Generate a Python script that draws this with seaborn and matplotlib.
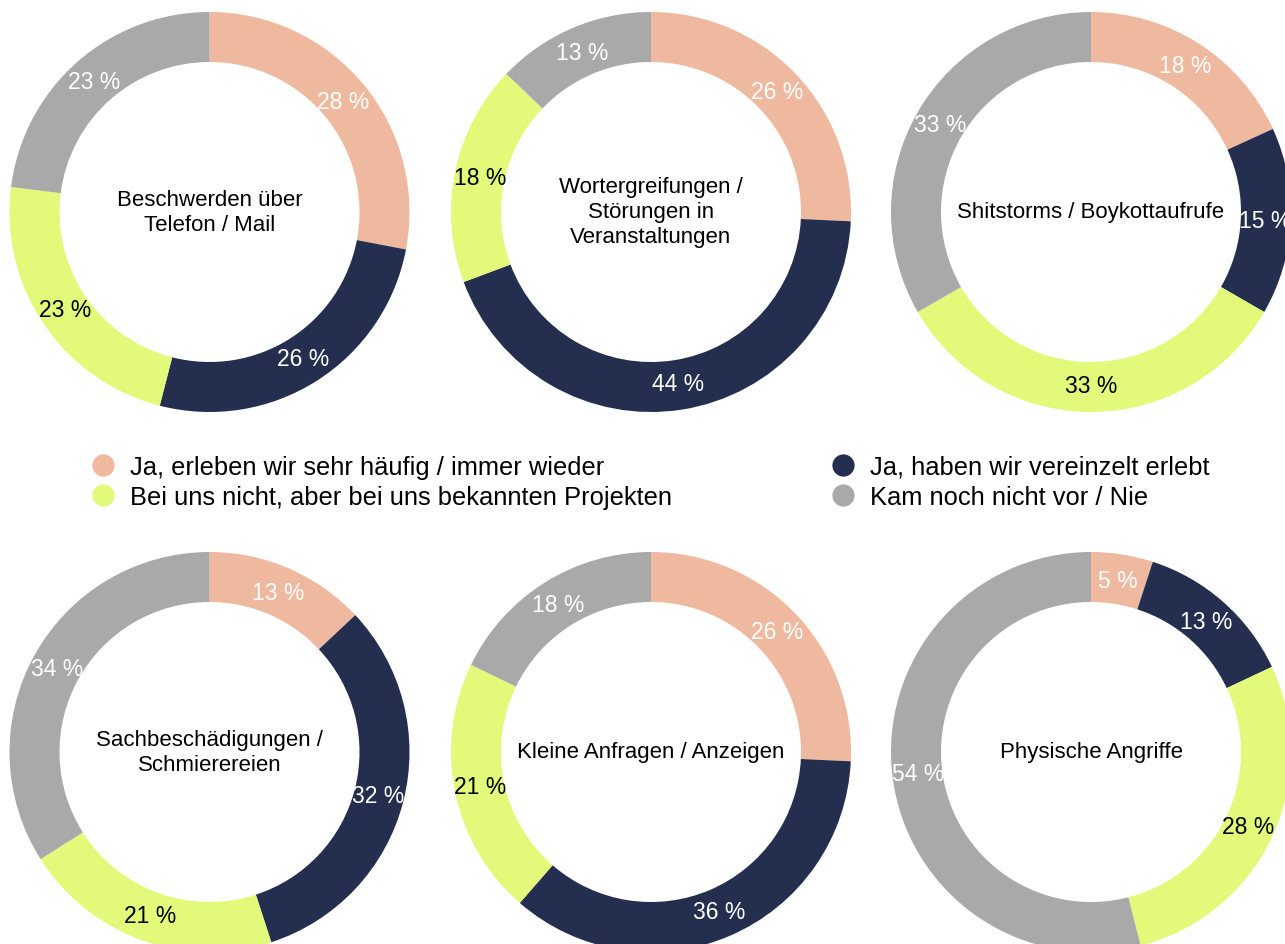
import matplotlib
matplotlib.use("Agg")
import matplotlib.pyplot as plt
from matplotlib.lines import Line2D
import seaborn as sns

# answer categories (legend order follows the ring order)
categories = [
    "Ja, erleben wir sehr häufig / immer wieder",
    "Ja, haben wir vereinzelt erlebt",
    "Bei uns nicht, aber bei uns bekannten Projekten",
    "Kam noch nicht vor / Nie",
]
topics = [
    "Beschwerden über\nTelefon / Mail",
    "Wortergreifungen /\nStörungen in\nVeranstaltungen",
    "Shitstorms / Boykottaufrufe",
    "Sachbeschädigungen /\nSchmierereien",
    "Kleine Anfragen / Anzeigen",
    "Physische Angriffe",
]
sehr_haeufig = [28, 26, 18, 13, 26, 5]
vereinzelt = [26, 44, 15, 32, 36, 13]
bekannte_projekte = [23, 18, 33, 21, 21, 28]
nie = [23, 13, 33, 34, 18, 54]

sns.set_theme(style="white")
plt.rcParams["font.family"] = ["Liberation Sans", "DejaVu Sans"]

palette = sns.color_palette(["#EFB9A0", "#242E4F", "#E3F97A", "#A9A9A9"])
text_colors = ["white", "white", "black", "white"]

W, H = 1285, 945
R = 200
centers = [(209.5, 213), (651, 213), (1091, 213),
           (209.5, 753), (651, 753), (1091, 753)]

fig = plt.figure(figsize=(W / 100, H / 100), dpi=100)

for i, (cx, cy) in enumerate(centers):
    ax = fig.add_axes([(cx - R) / W, (H - cy - R) / H, 2 * R / W, 2 * R / H])
    vals = [sehr_haeufig[i], vereinzelt[i], bekannte_projekte[i], nie[i]]
    wedges, texts = ax.pie(
        vals, colors=palette, startangle=90, counterclock=False,
        labels=[f"{v} %" for v in vals], labeldistance=0.87,
        wedgeprops=dict(width=0.25, edgecolor="none"),
        textprops=dict(fontsize=16.5),
    )
    for t, c in zip(texts, text_colors):
        t.set_ha("center")
        t.set_va("center")
        t.set_color(c)
    ax.text(0, 0, topics[i], ha="center", va="center", fontsize=16,
            color="black", linespacing=1.25)
    ax.set_xlim(-1, 1)
    ax.set_ylim(-1, 1)
    ax.axis("off")

# legend: column-wise fill -> salmon, lime | navy, gray
order = [0, 2, 1, 3]
handles = [Line2D([0], [0], marker="o", linestyle="none", markersize=16,
                  markerfacecolor=palette[k], markeredgecolor="none",
                  label=categories[k]) for k in order]
fig.legend(handles=handles, loc="upper left", ncol=2,
           bbox_to_anchor=(90 / W, 1 - 456 / H), frameon=False,
           fontsize=18.4, labelcolor="black", handlelength=1.0,
           handletextpad=0.55, columnspacing=6.2, labelspacing=0.25,
           borderpad=0, borderaxespad=0)

fig.savefig("out.png", dpi=100)
